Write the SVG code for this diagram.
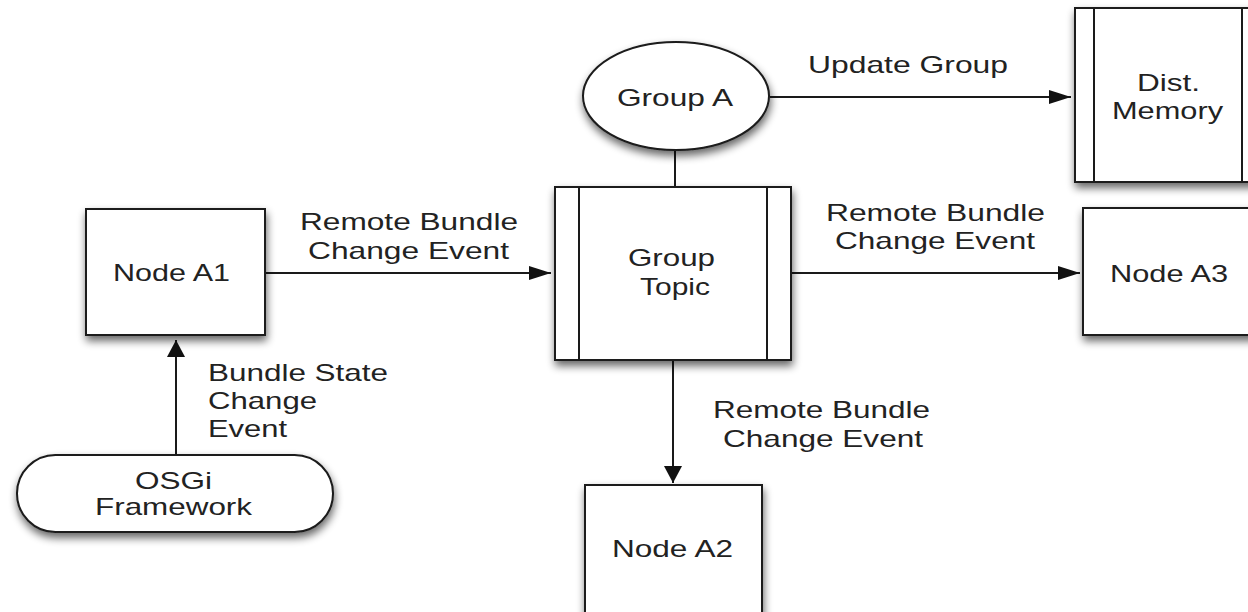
<svg xmlns="http://www.w3.org/2000/svg" width="1248" height="612" viewBox="0 0 1248 612">
<style>
.shape{fill:#fff;stroke:#1a1a1a;stroke-width:2;filter:url(#sh)}
.ln{fill:none;stroke:#1a1a1a;stroke-width:2}
.t{font-family:"Liberation Sans",Arial,sans-serif;font-size:24px;fill:#222}
</style>
<defs>
<filter id="sh" x="-20%" y="-20%" width="140%" height="150%">
<feGaussianBlur in="SourceAlpha" stdDeviation="4"/>
<feOffset dx="1" dy="5" result="b"/>
<feComponentTransfer><feFuncA type="linear" slope="0.6"/></feComponentTransfer>
<feMerge><feMergeNode/><feMergeNode in="SourceGraphic"/></feMerge>
</filter>
<marker id="ah" viewBox="0 0 22 14" refX="22" refY="7" markerWidth="22" markerHeight="14" markerUnits="userSpaceOnUse" orient="auto">
<path d="M0,0 L22,7 L0,14 Z" fill="#111"/>
</marker>
<marker id="av" viewBox="0 0 17 18" refX="17" refY="9" markerWidth="17" markerHeight="18" markerUnits="userSpaceOnUse" orient="auto">
<path d="M0,0 L17,9 L0,18 Z" fill="#111"/>
</marker>
</defs>
<rect width="1248" height="612" fill="#fff"/>

<g id="connectors">
<line class="ln" x1="176" y1="455" x2="176" y2="340" marker-end="url(#av)"/>
<line class="ln" x1="265" y1="273" x2="551" y2="273" marker-end="url(#ah)"/>
<line class="ln" x1="675" y1="150" x2="675" y2="187"/>
<line class="ln" x1="770" y1="97" x2="1071" y2="97" marker-end="url(#ah)"/>
<line class="ln" x1="791" y1="273" x2="1080" y2="273" marker-end="url(#ah)"/>
<line class="ln" x1="673" y1="360" x2="673" y2="483" marker-end="url(#av)"/>
<text class="t" x="300" y="230" textLength="218" lengthAdjust="spacingAndGlyphs">Remote Bundle</text>
<text class="t" x="308" y="259" textLength="201" lengthAdjust="spacingAndGlyphs">Change Event</text>
<text class="t" x="208" y="381" textLength="180" lengthAdjust="spacingAndGlyphs">Bundle State</text>
<text class="t" x="208" y="409" textLength="109" lengthAdjust="spacingAndGlyphs">Change</text>
<text class="t" x="208" y="437" textLength="79" lengthAdjust="spacingAndGlyphs">Event</text>
<text class="t" x="808" y="73" textLength="200" lengthAdjust="spacingAndGlyphs">Update Group</text>
<text class="t" x="826" y="221" textLength="219" lengthAdjust="spacingAndGlyphs">Remote Bundle</text>
<text class="t" x="835" y="249" textLength="200" lengthAdjust="spacingAndGlyphs">Change Event</text>
<text class="t" x="713" y="418" textLength="217" lengthAdjust="spacingAndGlyphs">Remote Bundle</text>
<text class="t" x="723" y="447" textLength="200" lengthAdjust="spacingAndGlyphs">Change Event</text>
</g>

<g id="node-a1">
<rect class="shape" x="86" y="209" width="179" height="126"/>
<text class="t" x="113" y="281" textLength="117" lengthAdjust="spacingAndGlyphs">Node A1</text>
</g>

<g id="osgi-framework">
<rect class="shape" x="17" y="455" width="316" height="77" rx="38.5" ry="38.5"/>
<text class="t" x="135" y="489" textLength="77" lengthAdjust="spacingAndGlyphs">OSGi</text>
<text class="t" x="95" y="515" textLength="157" lengthAdjust="spacingAndGlyphs">Framework</text>
</g>

<g id="group-a">
<ellipse class="shape" cx="676" cy="96" rx="93" ry="54"/>
<text class="t" x="617" y="106" textLength="116" lengthAdjust="spacingAndGlyphs">Group A</text>
</g>

<g id="group-topic">
<rect class="shape" x="555" y="187" width="236" height="173"/>
<line class="ln" x1="579" y1="187" x2="579" y2="360"/>
<line class="ln" x1="767" y1="187" x2="767" y2="360"/>
<text class="t" x="628" y="266" textLength="87" lengthAdjust="spacingAndGlyphs">Group</text>
<text class="t" x="640" y="295" textLength="70" lengthAdjust="spacingAndGlyphs">Topic</text>
</g>

<g id="dist-memory">
<rect class="shape" x="1075" y="8" width="187" height="174"/>
<line class="ln" x1="1094" y1="8" x2="1094" y2="182"/>
<line class="ln" x1="1242" y1="8" x2="1242" y2="182"/>
<text class="t" x="1137" y="91" textLength="63" lengthAdjust="spacingAndGlyphs">Dist.</text>
<text class="t" x="1112" y="119" textLength="111" lengthAdjust="spacingAndGlyphs">Memory</text>
</g>

<g id="node-a3">
<rect class="shape" x="1083" y="208" width="190" height="127"/>
<text class="t" x="1110" y="282" textLength="118" lengthAdjust="spacingAndGlyphs">Node A3</text>
</g>

<g id="node-a2">
<rect class="shape" x="585" y="485" width="177" height="140"/>
<text class="t" x="612" y="557" textLength="121" lengthAdjust="spacingAndGlyphs">Node A2</text>
</g>
</svg>
